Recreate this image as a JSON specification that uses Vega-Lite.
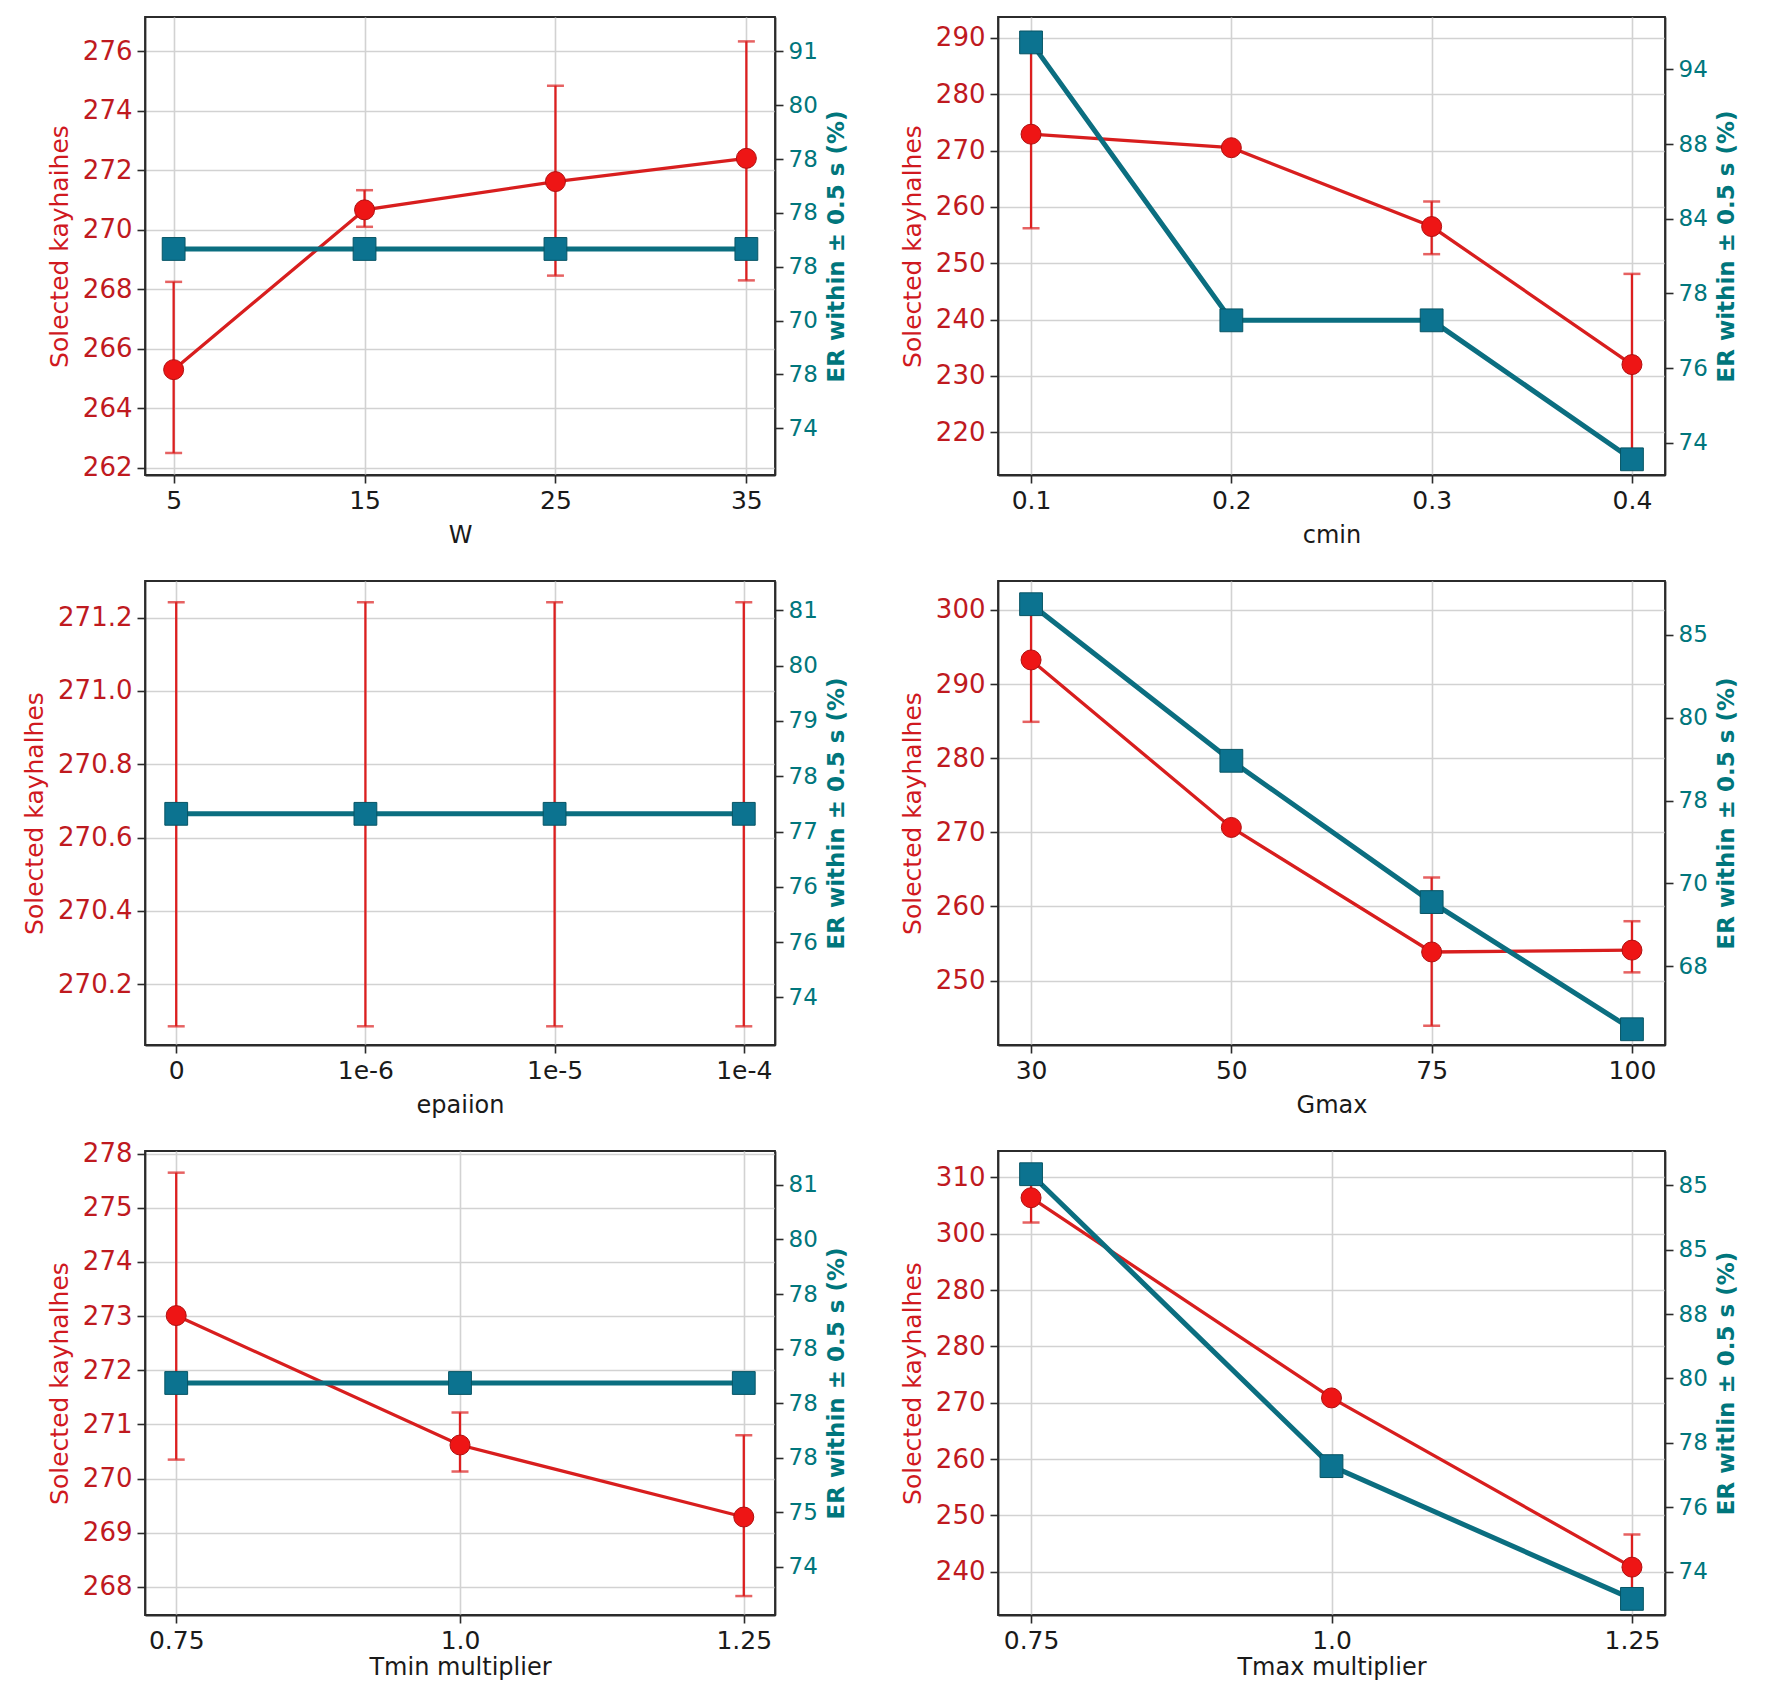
{
  "$schema": "https://vega.github.io/schema/vega-lite/v6.json",
  "background": "white",
  "padding": {"left": 21, "top": 16, "right": 5, "bottom": 5},
  "columns": 2,
  "align": "each",
  "bounds": "flush",
  "spacing": {"row": 106, "column": 223},
  "concat": [
    {
      "width": 630, "height": 458,
      "data": {"values": [
        {"x": "5", "m": 265.3, "lo": 262.5, "hi": 268.25, "er": 77.33},
        {"x": "15", "m": 270.67, "lo": 270.1, "hi": 271.33, "er": 77.33},
        {"x": "25", "m": 271.62, "lo": 268.46, "hi": 274.84, "er": 77.33},
        {"x": "35", "m": 272.4, "lo": 268.3, "hi": 276.33, "er": 77.33}
      ]},
      "encoding": {"x": {"field": "x", "type": "ordinal", "scale": {"type": "point", "domain": ["5", "15", "25", "35"], "padding": 0.15}, "axis": {"title": "W"}}},
      "layer": [
        {"layer": [
          {"transform": [{"filter": "isValid(datum.lo)"}], "mark": {"type": "rule", "color": "#dc1f1f", "strokeWidth": 2.3},
           "encoding": {"y": {"field": "lo", "type": "quantitative", "scale": {"domain": [261.76, 277.15], "nice": false, "zero": false},
             "axis": {"title": "Solected kayhaihes", "values": [262, 264, 266, 268, 270, 272, 274, 276]}}, "y2": {"field": "hi"}}},
          {"transform": [{"filter": "isValid(datum.lo)"}], "mark": {"type": "tick", "orient": "horizontal", "color": "#dc1f1f", "size": 17, "thickness": 2.5},
           "encoding": {"y": {"field": "lo", "type": "quantitative", "scale": {"domain": [261.76, 277.15], "nice": false, "zero": false},
             "axis": {"title": "Solected kayhaihes", "values": [262, 264, 266, 268, 270, 272, 274, 276]}}}},
          {"transform": [{"filter": "isValid(datum.hi)"}], "mark": {"type": "tick", "orient": "horizontal", "color": "#dc1f1f", "size": 17, "thickness": 2.5},
           "encoding": {"y": {"field": "hi", "type": "quantitative", "scale": {"domain": [261.76, 277.15], "nice": false, "zero": false},
             "axis": {"title": "Solected kayhaihes", "values": [262, 264, 266, 268, 270, 272, 274, 276]}}}},
          {"mark": {"type": "line", "color": "#d81e1e", "strokeWidth": 3.3},
           "encoding": {"y": {"field": "m", "type": "quantitative", "scale": {"domain": [261.76, 277.15], "nice": false, "zero": false},
             "axis": {"title": "Solected kayhaihes", "values": [262, 264, 266, 268, 270, 272, 274, 276]}}}},
          {"mark": {"type": "point", "shape": "circle", "filled": true, "size": 400, "color": "#ee1515", "stroke": "#b01010", "strokeWidth": 1, "opacity": 1},
           "encoding": {"y": {"field": "m", "type": "quantitative", "scale": {"domain": [261.76, 277.15], "nice": false, "zero": false},
             "axis": {"title": "Solected kayhaihes", "values": [262, 264, 266, 268, 270, 272, 274, 276]}}}}
        ]},
        {"encoding": {"y": {"field": "er", "type": "quantitative", "scale": {"domain": [73.13, 81.64], "nice": false, "zero": false},
           "axis": {"orient": "right", "title": "ER within ± 0.5 s (%)", "values": [74, 75, 76, 77, 78, 79, 80, 81],
             "labelExpr": "['74','78','70','78','78','78','80','91'][datum.value - 74]"}}},
         "layer": [
           {"mark": {"type": "line", "color": "#0b6e80", "strokeWidth": 5}},
           {"mark": {"type": "point", "shape": "square", "filled": true, "size": 520, "color": "#0c7390", "stroke": "#075565", "strokeWidth": 1, "opacity": 1}}
         ]}
      ],
      "resolve": {"scale": {"y": "independent"}}
    },
    {
      "width": 667, "height": 458,
      "data": {"values": [
        {"x": "0.1", "m": 272.9, "lo": 256.2, "hi": 289.6, "er": 79.36},
        {"x": "0.2", "m": 270.5, "lo": null, "hi": null, "er": 75.64},
        {"x": "0.3", "m": 256.5, "lo": 251.6, "hi": 260.95, "er": 75.64},
        {"x": "0.4", "m": 232.0, "lo": 215.9, "hi": 248.1, "er": 73.78}
      ]},
      "encoding": {"x": {"field": "x", "type": "ordinal", "scale": {"type": "point", "domain": ["0.1", "0.2", "0.3", "0.4"], "padding": 0.165}, "axis": {"title": "cmin"}}},
      "layer": [
        {"layer": [
          {"transform": [{"filter": "isValid(datum.lo)"}], "mark": {"type": "rule", "color": "#dc1f1f", "strokeWidth": 2.3},
           "encoding": {"y": {"field": "lo", "type": "quantitative", "scale": {"domain": [212.4, 293.7], "nice": false, "zero": false},
             "axis": {"title": "Solected kayhalhes", "values": [220, 230, 240, 250, 260, 270, 280, 290]}}, "y2": {"field": "hi"}}},
          {"transform": [{"filter": "isValid(datum.lo)"}], "mark": {"type": "tick", "orient": "horizontal", "color": "#dc1f1f", "size": 17, "thickness": 2.5},
           "encoding": {"y": {"field": "lo", "type": "quantitative", "scale": {"domain": [212.4, 293.7], "nice": false, "zero": false},
             "axis": {"title": "Solected kayhalhes", "values": [220, 230, 240, 250, 260, 270, 280, 290]}}}},
          {"transform": [{"filter": "isValid(datum.hi)"}], "mark": {"type": "tick", "orient": "horizontal", "color": "#dc1f1f", "size": 17, "thickness": 2.5},
           "encoding": {"y": {"field": "hi", "type": "quantitative", "scale": {"domain": [212.4, 293.7], "nice": false, "zero": false},
             "axis": {"title": "Solected kayhalhes", "values": [220, 230, 240, 250, 260, 270, 280, 290]}}}},
          {"mark": {"type": "line", "color": "#d81e1e", "strokeWidth": 3.3},
           "encoding": {"y": {"field": "m", "type": "quantitative", "scale": {"domain": [212.4, 293.7], "nice": false, "zero": false},
             "axis": {"title": "Solected kayhalhes", "values": [220, 230, 240, 250, 260, 270, 280, 290]}}}},
          {"mark": {"type": "point", "shape": "circle", "filled": true, "size": 400, "color": "#ee1515", "stroke": "#b01010", "strokeWidth": 1, "opacity": 1},
           "encoding": {"y": {"field": "m", "type": "quantitative", "scale": {"domain": [212.4, 293.7], "nice": false, "zero": false},
             "axis": {"title": "Solected kayhalhes", "values": [220, 230, 240, 250, 260, 270, 280, 290]}}}}
        ]},
        {"encoding": {"y": {"field": "er", "type": "quantitative", "scale": {"domain": [73.57, 79.7], "nice": false, "zero": false},
           "axis": {"orient": "right", "title": "ER within ± 0.5 s (%)", "values": [74, 75, 76, 77, 78, 79],
             "labelExpr": "['74','76','78','84','88','94'][datum.value - 74]"}}},
         "layer": [
           {"mark": {"type": "line", "color": "#0b6e80", "strokeWidth": 5}},
           {"mark": {"type": "point", "shape": "square", "filled": true, "size": 520, "color": "#0c7390", "stroke": "#075565", "strokeWidth": 1, "opacity": 1}}
         ]}
      ],
      "resolve": {"scale": {"y": "independent"}}
    },
    {
      "width": 630, "height": 464,
      "data": {"values": [
        {"x": "0", "m": 270.665, "lo": 270.085, "hi": 271.242, "er": 77.32},
        {"x": "1e-6", "m": 270.665, "lo": 270.085, "hi": 271.242, "er": 77.32},
        {"x": "1e-5", "m": 270.665, "lo": 270.085, "hi": 271.242, "er": 77.32},
        {"x": "1e-4", "m": 270.665, "lo": 270.085, "hi": 271.242, "er": 77.32}
      ]},
      "encoding": {"x": {"field": "x", "type": "ordinal", "scale": {"type": "point", "domain": ["0", "1e-6", "1e-5", "1e-4"], "padding": 0.165}, "axis": {"title": "epaiion"}}},
      "layer": [
        {"layer": [
          {"transform": [{"filter": "isValid(datum.lo)"}], "mark": {"type": "rule", "color": "#dc1f1f", "strokeWidth": 2.3},
           "encoding": {"y": {"field": "lo", "type": "quantitative", "scale": {"domain": [270.034, 271.3], "nice": false, "zero": false},
             "axis": {"title": "Solected kayhalhes", "values": [270.2, 270.4, 270.6, 270.8, 271.0, 271.2], "format": ".1f"}}, "y2": {"field": "hi"}}},
          {"transform": [{"filter": "isValid(datum.lo)"}], "mark": {"type": "tick", "orient": "horizontal", "color": "#dc1f1f", "size": 17, "thickness": 2.5},
           "encoding": {"y": {"field": "lo", "type": "quantitative", "scale": {"domain": [270.034, 271.3], "nice": false, "zero": false},
             "axis": {"title": "Solected kayhalhes", "values": [270.2, 270.4, 270.6, 270.8, 271.0, 271.2], "format": ".1f"}}}},
          {"transform": [{"filter": "isValid(datum.hi)"}], "mark": {"type": "tick", "orient": "horizontal", "color": "#dc1f1f", "size": 17, "thickness": 2.5},
           "encoding": {"y": {"field": "hi", "type": "quantitative", "scale": {"domain": [270.034, 271.3], "nice": false, "zero": false},
             "axis": {"title": "Solected kayhalhes", "values": [270.2, 270.4, 270.6, 270.8, 271.0, 271.2], "format": ".1f"}}}},
          {"mark": {"type": "line", "color": "#d81e1e", "strokeWidth": 3.3},
           "encoding": {"y": {"field": "m", "type": "quantitative", "scale": {"domain": [270.034, 271.3], "nice": false, "zero": false},
             "axis": {"title": "Solected kayhalhes", "values": [270.2, 270.4, 270.6, 270.8, 271.0, 271.2], "format": ".1f"}}}},
          {"mark": {"type": "point", "shape": "circle", "filled": true, "size": 400, "color": "#ee1515", "stroke": "#b01010", "strokeWidth": 1, "opacity": 1},
           "encoding": {"y": {"field": "m", "type": "quantitative", "scale": {"domain": [270.034, 271.3], "nice": false, "zero": false},
             "axis": {"title": "Solected kayhalhes", "values": [270.2, 270.4, 270.6, 270.8, 271.0, 271.2], "format": ".1f"}}}}
        ]},
        {"encoding": {"y": {"field": "er", "type": "quantitative", "scale": {"domain": [73.14, 81.53], "nice": false, "zero": false},
           "axis": {"orient": "right", "title": "ER within ± 0.5 s (%)", "values": [74, 75, 76, 77, 78, 79, 80, 81],
             "labelExpr": "['74','76','76','77','78','79','80','81'][datum.value - 74]"}}},
         "layer": [
           {"mark": {"type": "line", "color": "#0b6e80", "strokeWidth": 5}},
           {"mark": {"type": "point", "shape": "square", "filled": true, "size": 520, "color": "#0c7390", "stroke": "#075565", "strokeWidth": 1, "opacity": 1}}
         ]}
      ],
      "resolve": {"scale": {"y": "independent"}}
    },
    {
      "width": 667, "height": 464,
      "data": {"values": [
        {"x": "30", "m": 293.25, "lo": 284.9, "hi": 301.6, "er": 72.37},
        {"x": "50", "m": 270.65, "lo": null, "hi": null, "er": 70.48},
        {"x": "75", "m": 253.85, "lo": 243.9, "hi": 263.9, "er": 68.775},
        {"x": "100", "m": 254.1, "lo": 251.1, "hi": 258.0, "er": 67.24}
      ]},
      "encoding": {"x": {"field": "x", "type": "ordinal", "scale": {"type": "point", "domain": ["30", "50", "75", "100"], "padding": 0.165}, "axis": {"title": "Gmax"}}},
      "layer": [
        {"layer": [
          {"transform": [{"filter": "isValid(datum.lo)"}], "mark": {"type": "rule", "color": "#dc1f1f", "strokeWidth": 2.3},
           "encoding": {"y": {"field": "lo", "type": "quantitative", "scale": {"domain": [241.3, 303.9], "nice": false, "zero": false},
             "axis": {"title": "Solected kayhalhes", "values": [250, 260, 270, 280, 290, 300]}}, "y2": {"field": "hi"}}},
          {"transform": [{"filter": "isValid(datum.lo)"}], "mark": {"type": "tick", "orient": "horizontal", "color": "#dc1f1f", "size": 17, "thickness": 2.5},
           "encoding": {"y": {"field": "lo", "type": "quantitative", "scale": {"domain": [241.3, 303.9], "nice": false, "zero": false},
             "axis": {"title": "Solected kayhalhes", "values": [250, 260, 270, 280, 290, 300]}}}},
          {"transform": [{"filter": "isValid(datum.hi)"}], "mark": {"type": "tick", "orient": "horizontal", "color": "#dc1f1f", "size": 17, "thickness": 2.5},
           "encoding": {"y": {"field": "hi", "type": "quantitative", "scale": {"domain": [241.3, 303.9], "nice": false, "zero": false},
             "axis": {"title": "Solected kayhalhes", "values": [250, 260, 270, 280, 290, 300]}}}},
          {"mark": {"type": "line", "color": "#d81e1e", "strokeWidth": 3.3},
           "encoding": {"y": {"field": "m", "type": "quantitative", "scale": {"domain": [241.3, 303.9], "nice": false, "zero": false},
             "axis": {"title": "Solected kayhalhes", "values": [250, 260, 270, 280, 290, 300]}}}},
          {"mark": {"type": "point", "shape": "circle", "filled": true, "size": 400, "color": "#ee1515", "stroke": "#b01010", "strokeWidth": 1, "opacity": 1},
           "encoding": {"y": {"field": "m", "type": "quantitative", "scale": {"domain": [241.3, 303.9], "nice": false, "zero": false},
             "axis": {"title": "Solected kayhalhes", "values": [250, 260, 270, 280, 290, 300]}}}}
        ]},
        {"encoding": {"y": {"field": "er", "type": "quantitative", "scale": {"domain": [67.05, 72.65], "nice": false, "zero": false},
           "axis": {"orient": "right", "title": "ER within ± 0.5 s (%)", "values": [68, 69, 70, 71, 72],
             "labelExpr": "['68','70','78','80','85'][datum.value - 68]"}}},
         "layer": [
           {"mark": {"type": "line", "color": "#0b6e80", "strokeWidth": 5}},
           {"mark": {"type": "point", "shape": "square", "filled": true, "size": 520, "color": "#0c7390", "stroke": "#075565", "strokeWidth": 1, "opacity": 1}}
         ]}
      ],
      "resolve": {"scale": {"y": "independent"}}
    },
    {
      "width": 630, "height": 464,
      "data": {"values": [
        {"x": "0.75", "m": 273.01, "lo": 270.35, "hi": 275.65, "er": 77.37},
        {"x": "1.0", "m": 270.62, "lo": 270.13, "hi": 271.22, "er": 77.37},
        {"x": "1.25", "m": 269.29, "lo": 267.83, "hi": 270.8, "er": 77.37}
      ]},
      "encoding": {"x": {"field": "x", "type": "ordinal", "scale": {"type": "point", "domain": ["0.75", "1.0", "1.25"], "padding": 0.11}, "axis": {"title": "Tmin multiplier", "titlePadding": 2}}},
      "layer": [
        {"layer": [
          {"transform": [{"filter": "isValid(datum.lo)"}], "mark": {"type": "rule", "color": "#dc1f1f", "strokeWidth": 2.3},
           "encoding": {"y": {"field": "lo", "type": "quantitative", "scale": {"domain": [267.48, 276.05], "nice": false, "zero": false},
             "axis": {"title": "Solected kayhalhes", "values": [268, 269, 270, 271, 272, 273, 274, 275, 276], "labelExpr": "datum.value == 276 ? '278' : datum.label"}}, "y2": {"field": "hi"}}},
          {"transform": [{"filter": "isValid(datum.lo)"}], "mark": {"type": "tick", "orient": "horizontal", "color": "#dc1f1f", "size": 17, "thickness": 2.5},
           "encoding": {"y": {"field": "lo", "type": "quantitative", "scale": {"domain": [267.48, 276.05], "nice": false, "zero": false},
             "axis": {"title": "Solected kayhalhes", "values": [268, 269, 270, 271, 272, 273, 274, 275, 276], "labelExpr": "datum.value == 276 ? '278' : datum.label"}}}},
          {"transform": [{"filter": "isValid(datum.hi)"}], "mark": {"type": "tick", "orient": "horizontal", "color": "#dc1f1f", "size": 17, "thickness": 2.5},
           "encoding": {"y": {"field": "hi", "type": "quantitative", "scale": {"domain": [267.48, 276.05], "nice": false, "zero": false},
             "axis": {"title": "Solected kayhalhes", "values": [268, 269, 270, 271, 272, 273, 274, 275, 276], "labelExpr": "datum.value == 276 ? '278' : datum.label"}}}},
          {"mark": {"type": "line", "color": "#d81e1e", "strokeWidth": 3.3},
           "encoding": {"y": {"field": "m", "type": "quantitative", "scale": {"domain": [267.48, 276.05], "nice": false, "zero": false},
             "axis": {"title": "Solected kayhalhes", "values": [268, 269, 270, 271, 272, 273, 274, 275, 276], "labelExpr": "datum.value == 276 ? '278' : datum.label"}}}},
          {"mark": {"type": "point", "shape": "circle", "filled": true, "size": 400, "color": "#ee1515", "stroke": "#b01010", "strokeWidth": 1, "opacity": 1},
           "encoding": {"y": {"field": "m", "type": "quantitative", "scale": {"domain": [267.48, 276.05], "nice": false, "zero": false},
             "axis": {"title": "Solected kayhalhes", "values": [268, 269, 270, 271, 272, 273, 274, 275, 276], "labelExpr": "datum.value == 276 ? '278' : datum.label"}}}}
        ]},
        {"encoding": {"y": {"field": "er", "type": "quantitative", "scale": {"domain": [73.12, 81.62], "nice": false, "zero": false},
           "axis": {"orient": "right", "title": "ER within ± 0.5 s (%)", "values": [74, 75, 76, 77, 78, 79, 80, 81],
             "labelExpr": "['74','75','78','78','78','78','80','81'][datum.value - 74]"}}},
         "layer": [
           {"mark": {"type": "line", "color": "#0b6e80", "strokeWidth": 5}},
           {"mark": {"type": "point", "shape": "square", "filled": true, "size": 520, "color": "#0c7390", "stroke": "#075565", "strokeWidth": 1, "opacity": 1}}
         ]}
      ],
      "resolve": {"scale": {"y": "independent"}}
    },
    {
      "width": 667, "height": 464,
      "data": {"values": [
        {"x": "0.75", "m": 306.4, "lo": 302.0, "hi": 310.8, "er": 80.17},
        {"x": "1.0", "m": 270.85, "lo": null, "hi": null, "er": 75.64},
        {"x": "1.25", "m": 240.8, "lo": 235.0, "hi": 246.6, "er": 73.58}
      ]},
      "encoding": {"x": {"field": "x", "type": "ordinal", "scale": {"type": "point", "domain": ["0.75", "1.0", "1.25"], "padding": 0.11}, "axis": {"title": "Tmax multiplier", "titlePadding": 2}}},
      "layer": [
        {"layer": [
          {"transform": [{"filter": "isValid(datum.lo)"}], "mark": {"type": "rule", "color": "#dc1f1f", "strokeWidth": 2.3},
           "encoding": {"y": {"field": "lo", "type": "quantitative", "scale": {"domain": [232.3, 314.7], "nice": false, "zero": false},
             "axis": {"title": "Solected kayhalhes", "values": [240, 250, 260, 270, 280, 290, 300, 310], "labelExpr": "datum.value == 290 ? '280' : datum.label"}}, "y2": {"field": "hi"}}},
          {"transform": [{"filter": "isValid(datum.lo)"}], "mark": {"type": "tick", "orient": "horizontal", "color": "#dc1f1f", "size": 17, "thickness": 2.5},
           "encoding": {"y": {"field": "lo", "type": "quantitative", "scale": {"domain": [232.3, 314.7], "nice": false, "zero": false},
             "axis": {"title": "Solected kayhalhes", "values": [240, 250, 260, 270, 280, 290, 300, 310], "labelExpr": "datum.value == 290 ? '280' : datum.label"}}}},
          {"transform": [{"filter": "isValid(datum.hi)"}], "mark": {"type": "tick", "orient": "horizontal", "color": "#dc1f1f", "size": 17, "thickness": 2.5},
           "encoding": {"y": {"field": "hi", "type": "quantitative", "scale": {"domain": [232.3, 314.7], "nice": false, "zero": false},
             "axis": {"title": "Solected kayhalhes", "values": [240, 250, 260, 270, 280, 290, 300, 310], "labelExpr": "datum.value == 290 ? '280' : datum.label"}}}},
          {"mark": {"type": "line", "color": "#d81e1e", "strokeWidth": 3.3},
           "encoding": {"y": {"field": "m", "type": "quantitative", "scale": {"domain": [232.3, 314.7], "nice": false, "zero": false},
             "axis": {"title": "Solected kayhalhes", "values": [240, 250, 260, 270, 280, 290, 300, 310], "labelExpr": "datum.value == 290 ? '280' : datum.label"}}}},
          {"mark": {"type": "point", "shape": "circle", "filled": true, "size": 400, "color": "#ee1515", "stroke": "#b01010", "strokeWidth": 1, "opacity": 1},
           "encoding": {"y": {"field": "m", "type": "quantitative", "scale": {"domain": [232.3, 314.7], "nice": false, "zero": false},
             "axis": {"title": "Solected kayhalhes", "values": [240, 250, 260, 270, 280, 290, 300, 310], "labelExpr": "datum.value == 290 ? '280' : datum.label"}}}}
        ]},
        {"encoding": {"y": {"field": "er", "type": "quantitative", "scale": {"domain": [73.33, 80.53], "nice": false, "zero": false},
           "axis": {"orient": "right", "title": "ER witlin ± 0.5 s (%)", "values": [74, 75, 76, 77, 78, 79, 80],
             "labelExpr": "['74','76','78','80','88','85','85'][datum.value - 74]"}}},
         "layer": [
           {"mark": {"type": "line", "color": "#0b6e80", "strokeWidth": 5}},
           {"mark": {"type": "point", "shape": "square", "filled": true, "size": 520, "color": "#0c7390", "stroke": "#075565", "strokeWidth": 1, "opacity": 1}}
         ]}
      ],
      "resolve": {"scale": {"y": "independent"}}
    }
  ],
  "config": {
    "font": "DejaVu Sans",
    "view": {"stroke": "#2b2b2b", "strokeWidth": 1.8},
    "axis": {
      "domainColor": "#2b2b2b", "domainWidth": 1.8,
      "tickColor": "#2b2b2b", "tickWidth": 1.6, "tickSize": 8,
      "gridColor": "#d2d2d2", "gridWidth": 1.6,
      "labelFontSize": 25, "labelColor": "#1a1a1a", "labelPadding": 5,
      "titleFontSize": 24, "titleFontWeight": "normal", "titleColor": "#1a1a1a"
    },
    "axisX": {"labelAngle": 0, "titlePadding": 10, "grid": true},
    "axisLeft": {"labelColor": "#bf1a1f", "titleColor": "#d0191f", "labelFontSize": 26, "titleFontSize": 25, "titlePadding": 10, "grid": true},
    "axisRight": {"labelColor": "#00767c", "titleColor": "#00767c", "labelFontSize": 23, "titleFontSize": 23, "titleFontWeight": "bold", "grid": false, "titlePadding": 8, "titleAngle": 270, "titleBaseline": "top"}
  }
}
